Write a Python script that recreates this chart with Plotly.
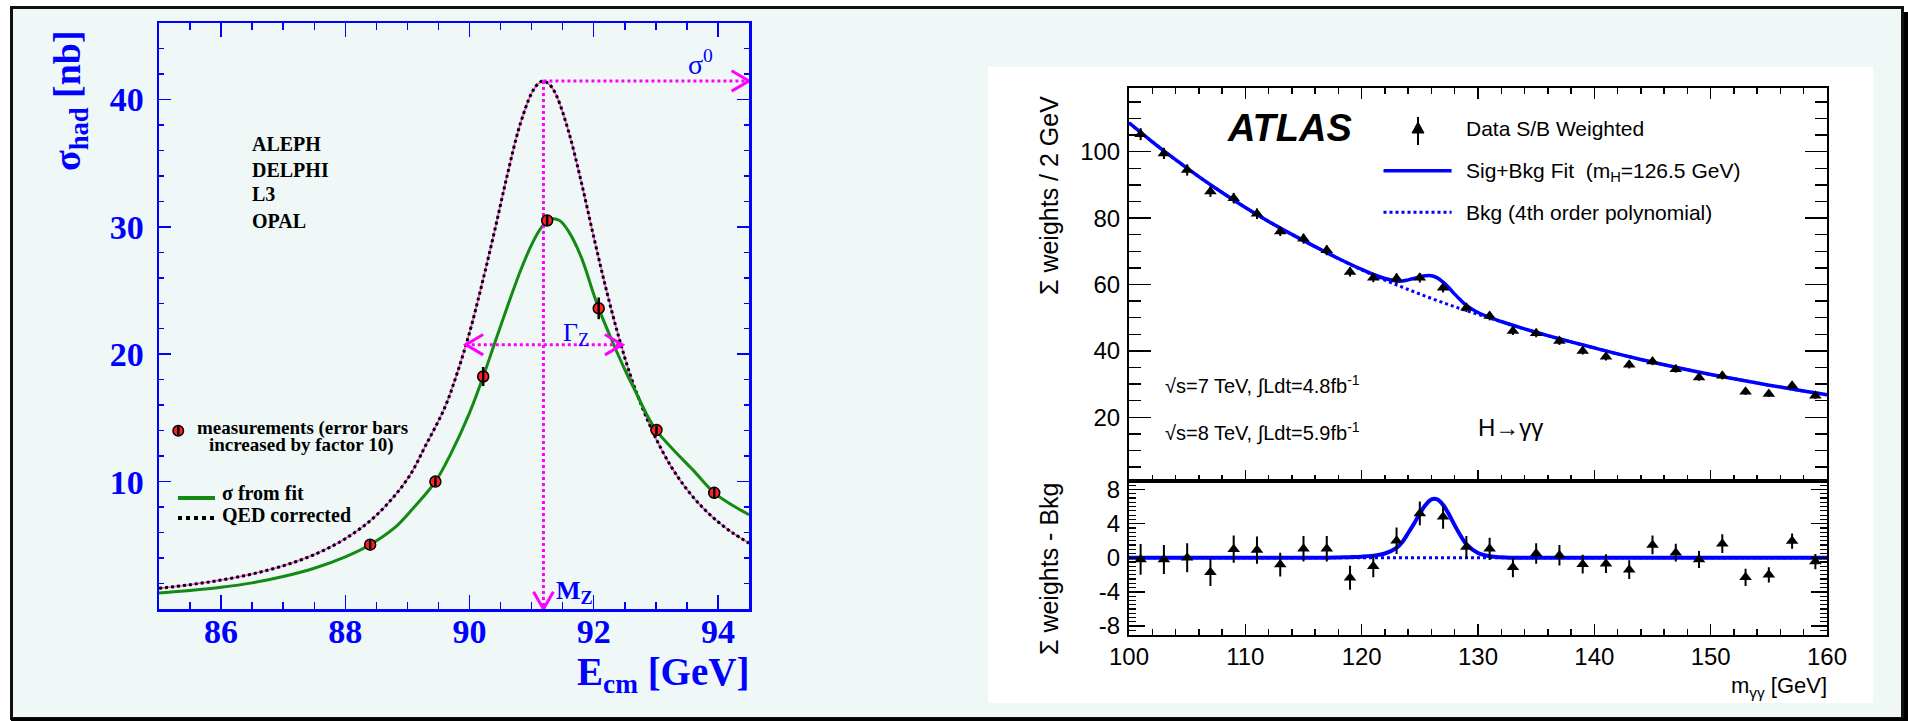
import plotly.graph_objects as go

W, H = 1908, 721

# ---------------- Left panel: LEP hadronic cross-section ----------------
lep_energy = [88.40, 89.45, 90.22, 91.25, 92.08, 93.01, 93.94]
lep_sigma = [5.05, 10.0, 18.25, 30.5, 23.6, 14.05, 9.12]
lep_err = [0.35, 0.35, 0.75, 0.4, 0.85, 0.35, 0.45]

fit_energy = [85.0, 85.5, 86.0, 86.5, 87.0, 87.5, 88.0, 88.4, 88.8, 89.1, 89.45, 89.7,
              90.0, 90.22, 90.4, 90.6, 90.8, 91.0, 91.15, 91.3, 91.45, 91.6, 91.8, 92.0,
              92.08, 92.3, 92.5, 92.7, 92.85, 93.01, 93.3, 93.6, 93.94, 94.2, 94.5]
fit_sigma = [1.25, 1.45, 1.7, 2.05, 2.55, 3.2, 4.1, 5.05, 6.4, 7.95, 10.0, 12.2,
             15.4, 18.25, 20.8, 23.6, 26.3, 28.6, 29.9, 30.6, 30.5, 29.6, 27.6, 24.7,
             23.6, 21.0, 18.8, 16.8, 15.3, 14.0, 12.4, 10.9, 9.12, 8.25, 7.4]

qed_energy = [85.0, 85.5, 86.0, 86.5, 87.0, 87.5, 88.0, 88.5, 89.0, 89.3, 89.6, 89.8,
              90.0, 90.2, 90.4, 90.6, 90.8, 91.0, 91.1, 91.19, 91.3, 91.4, 91.6, 91.8,
              92.0, 92.2, 92.4, 92.6, 92.8, 93.0, 93.25, 93.5, 93.75, 94.0, 94.25, 94.5]
qed_sigma = [1.62, 1.91, 2.27, 2.75, 3.39, 4.27, 5.52, 7.36, 10.2, 12.9, 15.8, 18.5,
             21.7, 25.5, 29.6, 33.9, 37.8, 40.5, 41.2, 41.45, 41.1, 40.3, 37.4, 33.5,
             29.2, 25.1, 21.4, 18.2, 15.6, 13.4, 11.15, 9.39, 7.98, 6.85, 5.93, 5.17]

mz = 91.19
sigma0 = 41.45
gamma_lo, gamma_hi, half_max = 89.94, 92.46, 20.75
experiments = ["ALEPH", "DELPHI", "L3", "OPAL"]

# ---------------- Right panel: ATLAS H -> gamma gamma ----------------
mgg = [101, 103, 105, 107, 109, 111, 113, 115, 117, 119, 121, 123, 125, 127, 129,
       131, 133, 135, 137, 139, 141, 143, 145, 147, 149, 151, 153, 155, 157, 159]
weights = [105.3, 99.5, 94.5, 88.0, 86.0, 81.3, 76.0, 73.8, 70.3, 63.8, 62.0, 61.8, 62.0, 59.0, 53.0,
           50.5, 46.0, 45.3, 43.0, 40.0, 38.2, 35.8, 36.8, 34.5, 32.0, 32.5, 27.7, 27.0, 29.5, 26.5]
resid = [-0.2, -0.2, 0.0, -1.7, 1.0, 0.9, -0.8, 1.05, 1.05, -2.35, -1.0, 2.0, 5.2, 4.8, 1.25,
         1.05, -1.1, 0.5, 0.3, -0.75, -0.7, -1.4, 1.5, 0.6, -0.2, 1.65, -2.3, -2.0, 1.95, -0.45]
errs = [1.8, 1.7, 1.7, 1.6, 1.6, 1.6, 1.4, 1.5, 1.5, 1.4, 1.3, 1.55, 1.4, 1.4, 1.3,
        1.3, 1.2, 1.2, 1.2, 1.1, 1.1, 1.1, 1.1, 1.05, 1.0, 1.1, 1.0, 0.9, 0.9, 0.9]

bkg_x = [100, 102, 104, 106, 108, 110, 112, 114, 116, 118, 120, 122, 124, 126, 128, 130,
         132, 134, 136, 138, 140, 142, 144, 146, 148, 150, 152, 154, 156, 158, 160]
bkg_y = [108.7, 103.0, 97.6, 92.5, 87.7, 83.2, 79.0, 75.1, 71.4, 67.8, 64.4, 61.3, 58.5, 55.8, 53.3, 51.0,
         48.8, 46.6, 44.6, 42.7, 40.9, 39.1, 37.4, 35.8, 34.3, 32.9, 31.6, 30.3, 29.1, 27.9, 26.8]

sig_x = [117, 118, 119, 120, 121, 122, 123, 123.5, 124, 124.5, 125, 125.5, 126, 126.5,
         127, 127.5, 128, 128.5, 129, 130, 131, 132, 133, 135]
sig_y = [0.0, 0.03, 0.07, 0.13, 0.25, 0.5, 1.15, 1.85, 2.9, 4.0, 5.2, 6.2, 6.85, 6.85,
         6.2, 5.1, 3.8, 2.6, 1.6, 0.55, 0.17, 0.05, 0.01, 0.0]
bkg_at_sig = [69.6, 67.8, 66.1, 64.4, 62.8, 61.3, 59.9, 59.2, 58.5, 57.8, 57.1, 56.45, 55.8, 55.15,
              54.5, 53.9, 53.3, 52.7, 52.1, 51.0, 49.9, 48.8, 47.7, 45.6]
m_range = [100, 160]

# combined Sig+Bkg curve built from the arrays above
tot_x = [x for x in bkg_x if x < sig_x[0]] + sig_x + [x for x in bkg_x if x > sig_x[-1]]
tot_y = ([y for x, y in zip(bkg_x, bkg_y) if x < sig_x[0]]
         + [b + s for b, s in zip(bkg_at_sig, sig_y)]
         + [y for x, y in zip(bkg_x, bkg_y) if x > sig_x[-1]])
res_x = [m_range[0]] + sig_x + [m_range[1]]
res_y = [0.0] + sig_y + [0.0]

BLUE = "#0000ff"
MAG = "#ff00ff"
SERIF = "Liberation Serif"
SANS = "Liberation Sans"


def fx(x):
    return x / W


def fy(y):
    return 1 - y / H


fig = go.Figure()

# ---- left traces
fig.add_trace(go.Scatter(x=qed_energy, y=qed_sigma, mode="lines", xaxis="x", yaxis="y",
                         line=dict(color="#ff44dd", width=1.6, shape="spline"), hoverinfo="skip"))
fig.add_trace(go.Scatter(x=qed_energy, y=qed_sigma, mode="lines", xaxis="x", yaxis="y",
                         line=dict(color="black", width=3, dash="dot", shape="spline"), hoverinfo="skip"))
fig.add_trace(go.Scatter(x=fit_energy, y=fit_sigma, mode="lines", xaxis="x", yaxis="y",
                         line=dict(color="#138a13", width=3, shape="spline"), hoverinfo="skip"))
arrow_line = dict(color=MAG, width=3, dash="dot")
fig.add_trace(go.Scatter(x=[mz, 94.5], y=[sigma0, sigma0], mode="lines", xaxis="x", yaxis="y",
                         line=arrow_line, hoverinfo="skip"))
fig.add_trace(go.Scatter(x=[mz, mz], y=[sigma0, 0], mode="lines", xaxis="x", yaxis="y",
                         line=arrow_line, hoverinfo="skip"))
fig.add_trace(go.Scatter(x=[gamma_lo, gamma_hi], y=[half_max, half_max], mode="lines", xaxis="x", yaxis="y",
                         line=arrow_line, hoverinfo="skip"))
fig.add_trace(go.Scatter(x=lep_energy, y=lep_sigma, mode="markers", xaxis="x", yaxis="y",
                         marker=dict(color="#ff2020", size=11, line=dict(color="black", width=1.5)),
                         hoverinfo="skip"))
fig.add_trace(go.Scatter(x=lep_energy, y=lep_sigma, mode="markers", xaxis="x", yaxis="y",
                         marker=dict(color="rgba(0,0,0,0)", size=2),
                         error_y=dict(type="data", array=lep_err, color="black", thickness=2.5, width=0),
                         hoverinfo="skip"))

# ---- right upper traces
fig.add_trace(go.Scatter(x=bkg_x, y=bkg_y, mode="lines", xaxis="x2", yaxis="y2",
                         line=dict(color=BLUE, width=3, dash="dot", shape="spline"), hoverinfo="skip"))
fig.add_trace(go.Scatter(x=tot_x, y=tot_y, mode="lines", xaxis="x2", yaxis="y2",
                         line=dict(color=BLUE, width=3.5, shape="spline"), hoverinfo="skip"))
fig.add_trace(go.Scatter(x=mgg, y=weights, mode="markers", xaxis="x2", yaxis="y2",
                         marker=dict(symbol="triangle-up", color="black", size=11),
                         error_y=dict(type="data", array=errs, color="black", thickness=2, width=0),
                         hoverinfo="skip"))
# ---- right lower traces
fig.add_trace(go.Scatter(x=m_range, y=[0, 0], mode="lines", xaxis="x3", yaxis="y3",
                         line=dict(color=BLUE, width=3, dash="dot"), hoverinfo="skip"))
fig.add_trace(go.Scatter(x=res_x, y=res_y, mode="lines", xaxis="x3", yaxis="y3",
                         line=dict(color=BLUE, width=4, shape="spline"), hoverinfo="skip"))
fig.add_trace(go.Scatter(x=mgg, y=resid, mode="markers", xaxis="x3", yaxis="y3",
                         marker=dict(symbol="triangle-up", color="black", size=11),
                         error_y=dict(type="data", array=errs, color="black", thickness=2, width=0),
                         hoverinfo="skip"))

shapes = []
# page background + frame
shapes.append(dict(type="rect", xref="paper", yref="paper", layer="below",
                   x0=fx(11.5), x1=fx(1902.5), y0=fy(718.5), y1=fy(7.5),
                   fillcolor="#eff8f6", line=dict(color="#111111", width=3)))
shapes.append(dict(type="line", xref="paper", yref="paper", layer="below",
                   x0=fx(1906), x1=fx(1906), y0=fy(12), y1=fy(721), line=dict(color="black", width=4)))
shapes.append(dict(type="line", xref="paper", yref="paper", layer="below",
                   x0=fx(11), x1=fx(1908), y0=fy(719.5), y1=fy(719.5), line=dict(color="black", width=3)))
# white ATLAS box
shapes.append(dict(type="rect", xref="paper", yref="paper", layer="below",
                   x0=fx(988), x1=fx(1873), y0=fy(703), y1=fy(67),
                   fillcolor="white", line=dict(width=0)))

# chevron arrow heads (data coordinates)
cdx, cdy = 0.28, 0.8
vdx, vdy = 0.16, 1.35
chev = dict(color=MAG, width=3)
shapes.append(dict(type="path", xref="x", yref="y", line=chev,
                   path=f"M {94.5 - cdx},{sigma0 + cdy} L 94.5,{sigma0} L {94.5 - cdx},{sigma0 - cdy}"))
shapes.append(dict(type="path", xref="x", yref="y", line=chev,
                   path=f"M {mz - vdx},{vdy} L {mz},0 L {mz + vdx},{vdy}"))
shapes.append(dict(type="path", xref="x", yref="y", line=chev,
                   path=f"M {gamma_lo + cdx},{half_max + cdy} L {gamma_lo},{half_max} L {gamma_lo + cdx},{half_max - cdy}"))
shapes.append(dict(type="path", xref="x", yref="y", line=chev,
                   path=f"M {gamma_hi - cdx},{half_max + cdy} L {gamma_hi},{half_max} L {gamma_hi - cdx},{half_max - cdy}"))

# left legend samples
shapes.append(dict(type="circle", xref="paper", yref="paper",
                   x0=fx(173), x1=fx(183.5), y0=fy(436), y1=fy(425.5),
                   fillcolor="#ff2020", line=dict(color="black", width=1.5)))
shapes.append(dict(type="line", xref="paper", yref="paper",
                   x0=fx(178.3), x1=fx(178.3), y0=fy(435), y1=fy(426.5), line=dict(color="black", width=2.5)))
shapes.append(dict(type="line", xref="paper", yref="paper",
                   x0=fx(178), x1=fx(215), y0=fy(498), y1=fy(498), line=dict(color="#138a13", width=4)))
shapes.append(dict(type="line", xref="paper", yref="paper",
                   x0=fx(178), x1=fx(215), y0=fy(518), y1=fy(518), line=dict(color="black", width=4, dash="dot")))

# right legend samples
lx, ly = 1418, 128
shapes.append(dict(type="line", xref="paper", yref="paper",
                   x0=fx(lx), x1=fx(lx), y0=fy(145), y1=fy(117), line=dict(color="black", width=2)))
shapes.append(dict(type="path", xref="paper", yref="paper", fillcolor="black", line=dict(color="black", width=1),
                   path=f"M {fx(lx - 6)},{fy(ly + 5)} L {fx(lx + 6)},{fy(ly + 5)} L {fx(lx)},{fy(ly - 6)} Z"))
shapes.append(dict(type="line", xref="paper", yref="paper",
                   x0=fx(1383.5), x1=fx(1451.6), y0=fy(170.7), y1=fy(170.7), line=dict(color=BLUE, width=3.5)))
shapes.append(dict(type="line", xref="paper", yref="paper",
                   x0=fx(1383.5), x1=fx(1451.6), y0=fy(212.3), y1=fy(212.3), line=dict(color=BLUE, width=3, dash="dot")))


def ann(text, x, y, size, color="black", family=SANS, xanchor="left", yanchor="middle",
        bold=False, angle=0):
    return dict(text=text, x=fx(x), y=fy(y), xref="paper", yref="paper", showarrow=False,
                xanchor=xanchor, yanchor=yanchor, textangle=angle,
                font=dict(family=family, size=size, color=color, weight="bold" if bold else "normal"))


annotations = []
for name, yy in zip(experiments, [143.8, 170, 194.4, 220.6]):
    annotations.append(ann(name, 250, yy, 20, family=SERIF, bold=True))
annotations += [
    ann("measurements (error bars", 195, 428, 19, family=SERIF, bold=True),
    ann("increased by factor 10)", 207, 445, 19, family=SERIF, bold=True),
    ann("σ from fit", 220, 493, 20, family=SERIF, bold=True),
    ann("QED corrected", 220, 515, 20, family=SERIF, bold=True),
    ann("σ<sup>0</sup>", 700, 63, 28, color=BLUE, family=SERIF, xanchor="center"),
    ann("Γ<sub>Z</sub>", 576, 334, 26, color=BLUE, family=SERIF, xanchor="center"),
    ann("M<sub>Z</sub>", 574, 592, 26, color=BLUE, family=SERIF, xanchor="center", bold=True),
    ann("σ<sub>had</sub> [nb]", 70, 101, 38, color=BLUE, family=SERIF, xanchor="center", bold=True, angle=-90),
    ann("E<sub>cm</sub> [GeV]", 751, 674, 39, color=BLUE, family=SERIF, xanchor="right", bold=True),
    # right panel texts
    ann("<b><i>ATLAS</i></b>", 1225, 127.5, 38),
    ann("Data S/B Weighted", 1464, 128, 21),
    ann("Sig+Bkg Fit  (m<sub>H</sub>=126.5 GeV)", 1464, 172, 21),
    ann("Bkg (4th order polynomial)", 1464, 212.3, 21),
    ann("√s=7 TeV, ∫Ldt=4.8fb<sup>-1</sup>", 1163, 385, 20),
    ann("√s=8 TeV, ∫Ldt=5.9fb<sup>-1</sup>", 1163, 431.7, 20),
    ann("H→γγ", 1476, 428, 24),
    ann("Σ weights / 2 GeV", 1049, 196, 25, xanchor="center", angle=-90),
    ann("Σ weights - Bkg", 1049, 569, 25, xanchor="center", angle=-90),
    ann("m<sub>γγ</sub> [GeV]", 1829, 687, 22, xanchor="right"),
]

left_tickfont = dict(family=SERIF, size=34, color=BLUE, weight="bold")
right_tickfont = dict(family=SANS, size=24, color="black")

common = dict(showgrid=False, zeroline=False, showline=True, automargin=False)

fig.update_layout(
    width=W, height=H, margin=dict(l=0, r=0, t=0, b=0, pad=0, autoexpand=False),
    paper_bgcolor="white", plot_bgcolor="rgba(0,0,0,0)", showlegend=False,
    shapes=shapes, annotations=annotations, hovermode=False,
    xaxis=dict(domain=[fx(159), fx(749)], anchor="y", range=[85, 94.5], **common,
               linecolor=BLUE, linewidth=2.5,
               mirror="ticks", ticks="inside", ticklen=14, tickwidth=1.5, tickcolor=BLUE,
               tickvals=[86, 88, 90, 92, 94], tickfont=left_tickfont, ticklabelstandoff=-9,
               minor=dict(ticks="inside", dtick=0.5, tick0=85, ticklen=7, tickwidth=1.5, tickcolor=BLUE)),
    yaxis=dict(domain=[fy(609), fy(23)], anchor="x", range=[0, 46], **common,
               linecolor=BLUE, linewidth=2.5,
               mirror="ticks", ticks="inside", ticklen=12, tickwidth=1.5, tickcolor=BLUE,
               tickvals=[10, 20, 30, 40], tickfont=left_tickfont, ticklabelstandoff=6,
               minor=dict(ticks="inside", dtick=2, tick0=0, ticklen=5, tickwidth=1.5, tickcolor=BLUE)),
    xaxis2=dict(domain=[fx(1129), fx(1827)], anchor="y2", range=m_range, **common,
                linecolor="black", linewidth=2,
                mirror="ticks", ticks="inside", ticklen=11, tickwidth=1.5, tickcolor="black",
                dtick=10, tick0=100, showticklabels=False,
                minor=dict(ticks="inside", dtick=2, tick0=100, ticklen=6, tickwidth=1.5, tickcolor="black")),
    yaxis2=dict(domain=[fy(481), fy(88)], anchor="x2", range=[0.8, 119.2], **common,
                linecolor="black", linewidth=2,
                mirror="ticks", ticks="inside", ticklen=22, tickwidth=1.5, tickcolor="black",
                tickvals=[20, 40, 60, 80, 100], tickfont=right_tickfont, ticklabelstandoff=2,
                minor=dict(ticks="inside", dtick=5, tick0=0, ticklen=12, tickwidth=1.5, tickcolor="black")),
    xaxis3=dict(domain=[fx(1129), fx(1827)], anchor="y3", range=m_range, **common,
                linecolor="black", linewidth=2,
                mirror=True, ticks="inside", ticklen=11, tickwidth=1.5, tickcolor="black",
                dtick=10, tick0=100, tickfont=right_tickfont, ticklabelstandoff=0,
                minor=dict(ticks="inside", dtick=2, tick0=100, ticklen=6, tickwidth=1.5, tickcolor="black")),
    yaxis3=dict(domain=[fy(634.5), fy(481)], anchor="x3", range=[-9, 9], **common,
                linecolor="black", linewidth=2,
                mirror="ticks", ticks="inside", ticklen=16, tickwidth=1.5, tickcolor="black",
                tickvals=[-8, -4, 0, 4, 8], ticktext=["-8", "-4", "0", "4", "8"],
                tickfont=right_tickfont, ticklabelstandoff=2,
                minor=dict(ticks="inside", dtick=0.5, tick0=0, ticklen=7, tickwidth=1.2, tickcolor="black")),
)

fig.write_html("out.html", config={"displayModeBar": False, "staticPlot": True},
               post_script="document.body.style.margin='0px'; document.body.style.overflow='hidden';")
